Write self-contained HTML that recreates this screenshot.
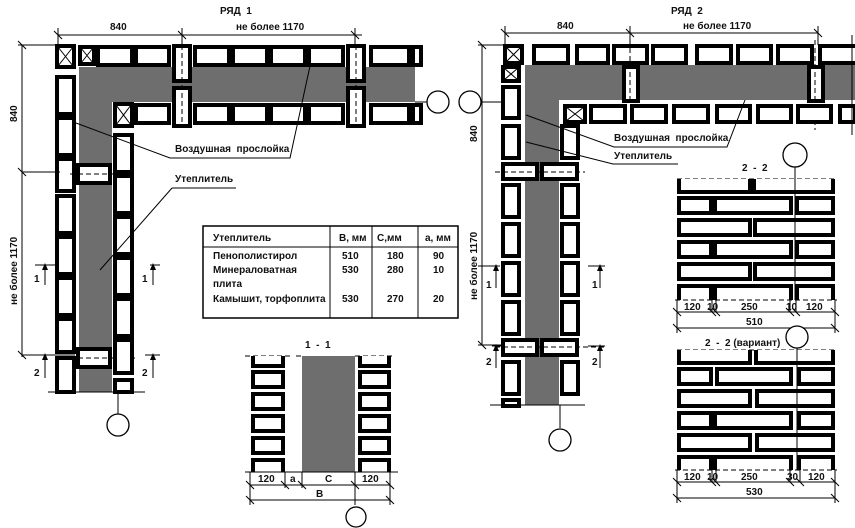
<!DOCTYPE html>
<html><head><meta charset="utf-8"><style>
html,body{margin:0;padding:0;background:#fff}
svg{display:block}
text{font-family:"Liberation Sans",sans-serif;font-weight:bold;font-size:10px;fill:#111}
.b{fill:#fff;stroke:#000;stroke-width:4}
.l{stroke:#000;stroke-width:1;fill:none}
.d{stroke:#000;stroke-width:1;stroke-dasharray:5 3;fill:none}
.c{fill:#fff;stroke:#000;stroke-width:1.3}
.h{fill:#6e6e6e}
</style></head><body>
<svg width="855" height="528" viewBox="0 0 855 528" xmlns="http://www.w3.org/2000/svg">

<!-- ============ РЯД 1 ============ -->
<text x="220" y="14">РЯД&#160;&#160;1</text>
<rect class="h" x="79" y="67" width="336" height="35"/>
<rect class="h" x="79" y="67" width="33" height="325"/>
<rect class="b" x="57" y="46" width="17" height="21"/><path class="l" d="M58 47L73 66M73 47L58 66" stroke-width="2"/>
<rect class="b" x="80" y="47" width="14" height="17"/><path class="l" d="M81 48L93 63M93 48L81 63" stroke-width="2"/>
<rect class="b" x="98" y="47" width="34" height="18"/>
<rect class="b" x="136" y="47" width="33" height="18"/>
<rect class="b" x="174" y="46" width="16" height="35"/>
<rect class="b" x="174" y="88" width="16" height="38"/>
<rect class="b" x="195" y="47" width="34" height="18"/>
<rect class="b" x="233" y="47" width="34" height="18"/>
<rect class="b" x="271" y="47" width="34" height="18"/>
<rect class="b" x="309" y="47" width="34" height="18"/>
<rect class="b" x="348" y="46" width="16" height="35"/>
<rect class="b" x="348" y="88" width="16" height="38"/>
<rect class="b" x="371" y="47" width="38" height="18"/>
<rect class="b" x="413" y="47" width="8" height="18"/>
<rect class="b" x="115" y="104" width="17" height="22"/><path class="l" d="M116 105L131 125M131 105L116 125" stroke-width="2"/>
<rect class="b" x="136" y="105" width="33" height="18"/>
<rect class="b" x="195" y="105" width="34" height="18"/>
<rect class="b" x="233" y="105" width="34" height="18"/>
<rect class="b" x="271" y="105" width="34" height="18"/>
<rect class="b" x="309" y="105" width="34" height="18"/>
<rect class="b" x="371" y="105" width="38" height="18"/>
<rect class="b" x="413" y="105" width="8" height="18"/>
<path class="d" d="M182 45V128M356 45V128"/>
<rect class="b" x="57" y="77" width="17" height="37"/>
<rect class="b" x="57" y="118" width="17" height="37"/>
<rect class="b" x="57" y="159" width="17" height="32"/>
<rect class="b" x="57" y="196" width="17" height="37"/>
<rect class="b" x="57" y="237" width="17" height="37"/>
<rect class="b" x="57" y="278" width="17" height="37"/>
<rect class="b" x="57" y="319" width="17" height="33"/>
<rect class="b" x="57" y="358" width="17" height="34"/>
<rect class="b" x="78" y="165" width="32" height="18"/>
<rect class="b" x="78" y="349" width="32" height="18"/>
<path class="d" d="M70 174H130M70 358H135"/>
<rect class="b" x="115" y="135" width="17" height="37"/>
<rect class="b" x="115" y="176" width="17" height="37"/>
<rect class="b" x="115" y="217" width="17" height="37"/>
<rect class="b" x="115" y="258" width="17" height="37"/>
<rect class="b" x="115" y="299" width="17" height="37"/>
<rect class="b" x="115" y="340" width="17" height="33"/>
<rect class="b" x="115" y="380" width="17" height="12"/>
<path class="l" d="M48 392H145"/>
<path class="l" d="M415 102H427M118 392V414"/>
<circle class="c" cx="438" cy="102" r="11"/>
<circle class="c" cx="118" cy="425" r="11"/>
<path class="l" d="M58 35H362M58 28V45M182 28V45M355 28V45"/>
<path class="l" d="M54 31l8 8M178 31l8 8M351 31l8 8"/>
<text x="110" y="30">840</text><text x="236" y="30">не более 1170</text>
<path class="l" d="M22 45V357M18 45H58M22 172H60M22 355H75"/>
<path class="l" d="M18 41l8 8M18 168l8 8M18 351l8 8"/>
<text transform="translate(17,122) rotate(-90)">840</text>
<text transform="translate(17,305) rotate(-90)">не более 1170</text>
<path class="l" d="M35 265H55M45 265V285M150 265H160M153 265V285"/>
<path d="M42 270L45 263L48 270Z M150 270L153 263L156 270Z"/>
<text x="34" y="282">1</text><text x="142" y="282">1</text>
<path class="l" d="M35 355H55M45 355V378M145 355H160M153 355V378"/>
<path d="M42 360L45 353L48 360Z M150 360L153 353L156 360Z"/>
<text x="34" y="376">2</text><text x="142" y="376">2</text>
<text x="175" y="152">Воздушная&#160;&#160;прослойка</text>
<path class="l" d="M76 123L170 158H290L310 66"/>
<text x="175" y="182">Утеплитель</text>
<path class="l" d="M172 188H236M172 188L100 270"/>

<!-- ============ TABLE ============ -->
<rect x="203" y="226" width="255" height="92" fill="#fff" stroke="#000" stroke-width="1.5"/>
<path class="l" d="M203 247H458M330 226V318M372 226V318M418 226V318"/>
<text x="213" y="241" font-size="9">Утеплитель</text><text x="339" y="241" font-size="9">В, мм</text><text x="377" y="241" font-size="9">С,мм</text><text x="425" y="241" font-size="9">а, мм</text>
<text x="213" y="259" font-size="9">Пенополистирол</text><text x="342" y="259" font-size="9">510</text><text x="387" y="259" font-size="9">180</text><text x="433" y="259" font-size="9">90</text>
<text x="213" y="273" font-size="9">Минераловатная</text><text x="342" y="273" font-size="9">530</text><text x="387" y="273" font-size="9">280</text><text x="433" y="273" font-size="9">10</text>
<text x="213" y="287" font-size="9">плита</text>
<text x="213" y="302" font-size="9">Камышит, торфоплита</text><text x="342" y="302" font-size="9">530</text><text x="387" y="302" font-size="9">270</text><text x="433" y="302" font-size="9">20</text>

<!-- ============ 1-1 ============ -->
<text x="305" y="348">1&#160;&#160;-&#160;&#160;1</text>
<rect class="h" x="302" y="356" width="53" height="116"/>
<path class="d" d="M245 356H290M296 356H302M355 356H395"/>
<path class="b" d="M253 356V366H283V356M360 356V366H389V356" fill="none"/>
<rect class="b" x="253" y="372" width="30" height="15"/><rect class="b" x="253" y="394" width="30" height="15"/><rect class="b" x="253" y="416" width="30" height="15"/><rect class="b" x="253" y="438" width="30" height="15"/>
<rect class="b" x="360" y="372" width="29" height="15"/><rect class="b" x="360" y="394" width="29" height="15"/><rect class="b" x="360" y="416" width="29" height="15"/><rect class="b" x="360" y="438" width="29" height="15"/>
<path class="b" d="M253 472V460H283V472M360 472V460H389V472" fill="none"/>
<path class="l" d="M245 472H398M250 472V505M285 472V488M302 472V488M355 472V505M390 472V505M250 485H390M250 500H390"/>
<path class="l" d="M246 481l8 8M281 481l8 8M298 481l8 8M351 481l8 8M386 481l8 8M246 496l8 8M386 496l8 8"/>
<text x="258" y="482">120</text><text x="290" y="482">a</text><text x="325" y="482">C</text><text x="362" y="482">120</text><text x="316" y="497">B</text>
<circle class="c" cx="356" cy="517" r="10"/>

<!-- ============ РЯД 2 ============ -->
<text x="671" y="14">РЯД&#160;&#160;2</text>
<rect class="h" x="525" y="65" width="330" height="35"/>
<rect class="h" x="525" y="65" width="34" height="340"/>
<rect class="b" x="505" y="46" width="17" height="17"/><path class="l" d="M506 47L521 62M521 47L506 62" stroke-width="2"/>
<rect class="b" x="534" y="46" width="34" height="17"/>
<rect class="b" x="577" y="46" width="31" height="17"/>
<rect class="b" x="614" y="46" width="33" height="17"/>
<rect class="b" x="653" y="46" width="33" height="17"/>
<rect class="b" x="697" y="46" width="34" height="17"/>
<rect class="b" x="738" y="46" width="33" height="17"/>
<rect class="b" x="778" y="46" width="34" height="17"/>
<rect class="b" x="820" y="46" width="40" height="17"/>
<rect class="b" x="624" y="67" width="14" height="34"/>
<rect class="b" x="809" y="67" width="14" height="34"/>
<path class="d" d="M630 40V100M815 40V130"/>
<rect class="b" x="565" y="106" width="20" height="16"/><path class="l" d="M566 107L584 121M584 107L566 121" stroke-width="2"/>
<rect class="b" x="591" y="106" width="34" height="16"/>
<rect class="b" x="632" y="106" width="34" height="16"/>
<rect class="b" x="674" y="106" width="34" height="16"/>
<rect class="b" x="717" y="106" width="33" height="16"/>
<rect class="b" x="758" y="106" width="33" height="16"/>
<rect class="b" x="798" y="106" width="33" height="16"/>
<rect class="b" x="840" y="106" width="15" height="16"/>
<path class="l" d="M852 35V135"/>
<rect class="b" x="503" y="67" width="16" height="14"/><path class="l" d="M504 68L518 80M518 68L504 80" stroke-width="2"/>
<rect class="b" x="503" y="87" width="16" height="31"/>
<rect class="b" x="503" y="126" width="16" height="32"/>
<rect class="b" x="503" y="164" width="34" height="15"/>
<rect class="b" x="542" y="164" width="35" height="15"/>
<rect class="b" x="503" y="185" width="16" height="32"/>
<rect class="b" x="503" y="224" width="16" height="32"/>
<rect class="b" x="503" y="263" width="16" height="32"/>
<rect class="b" x="503" y="302" width="16" height="32"/>
<rect class="b" x="503" y="340" width="34" height="15"/>
<rect class="b" x="542" y="340" width="35" height="15"/>
<rect class="b" x="503" y="362" width="16" height="32"/>
<rect class="b" x="503" y="400" width="16" height="6"/>
<rect class="b" x="562" y="126" width="16" height="32"/>
<rect class="b" x="562" y="185" width="16" height="32"/>
<rect class="b" x="562" y="224" width="16" height="32"/>
<rect class="b" x="562" y="263" width="16" height="32"/>
<rect class="b" x="562" y="302" width="16" height="32"/>
<rect class="b" x="562" y="362" width="16" height="32"/>
<path class="d" d="M495 172H585M495 347H605"/>
<path class="l" d="M490 405H585"/>
<path class="l" d="M481 102H505M560 405V428"/>
<circle class="c" cx="470" cy="102" r="11"/>
<circle class="c" cx="560" cy="440" r="11"/>
<path class="l" d="M505 33H818M505 26V45M630 26V45M818 26V45"/>
<path class="l" d="M501 29l8 8M626 29l8 8M814 29l8 8"/>
<text x="557" y="29">840</text><text x="683" y="29">не более 1170</text>
<path class="l" d="M482 45V345M478 45H505M478 345H505"/>
<path class="l" d="M478 41l8 8M478 341l8 8"/>
<text transform="translate(477,142) rotate(-90)">840</text>
<text transform="translate(477,300) rotate(-90)">не более 1170</text>
<path class="l" d="M478 266H500M496 266V288M588 266H605M600 266V288"/>
<path d="M493 271L496 264L499 271Z M597 271L600 264L603 271Z"/>
<text x="486" y="288">1</text><text x="592" y="288">1</text>
<path class="l" d="M492 346H503M496 346V368M588 346H605M600 346V368"/>
<path d="M493 351L496 344L499 351Z M597 351L600 344L603 351Z"/>
<text x="486" y="365">2</text><text x="592" y="365">2</text>
<text x="614" y="141">Воздушная&#160;&#160;прослойка</text>
<path class="l" d="M526 115L614 147H727L745 100"/>
<text x="614" y="159">Утеплитель</text>
<path class="l" d="M526 142L613 164H678"/>

<!-- ============ 2-2 ============ -->
<text x="742" y="171">2&#160;&#160;-&#160;&#160;2</text>
<circle class="c" cx="795" cy="155" r="12"/>
<path class="d" d="M677 179H835"/>
<path class="b" d="M679 179V192H750V179M754 179V192H833V179" fill="none"/>
<rect class="b" x="679" y="198" width="32" height="15"/><rect class="b" x="715" y="198" width="76" height="15"/><rect class="b" x="797" y="198" width="36" height="15"/>
<rect class="b" x="679" y="220" width="71" height="15"/><rect class="b" x="755" y="220" width="78" height="15"/>
<rect class="b" x="679" y="242" width="32" height="15"/><rect class="b" x="715" y="242" width="76" height="15"/><rect class="b" x="797" y="242" width="36" height="15"/>
<rect class="b" x="679" y="264" width="71" height="15"/><rect class="b" x="755" y="264" width="78" height="15"/>
<path class="b" d="M679 300V286H711V300M715 300V286H791V300M797 300V286H833V300" fill="none"/>
<path class="d" d="M675 300H837"/>
<path class="l" d="M795 167V300"/>
<path class="l" d="M677 300V333M712 300V312M716 300V312M790 300V312M796 300V312M835 300V333M677 312H835M677 328H835"/>
<path class="l" d="M673 308l8 8M708 308l8 8M712 308l8 8M786 308l8 8M792 308l8 8M831 308l8 8M673 324l8 8M831 324l8 8"/>
<text x="684" y="310">120</text><text x="707" y="310">10</text><text x="741" y="310">250</text><text x="786" y="310">10</text><text x="806" y="310">120</text>
<text x="746" y="325">510</text>
<text x="705" y="346">2&#160;&#160;-&#160;&#160;2 (вариант)</text>
<circle class="c" cx="797" cy="337" r="11"/>
<path class="d" d="M677 350H835"/>
<path class="b" d="M679 350V363H750V350M756 350V363H833V350" fill="none"/>
<rect class="b" x="679" y="369" width="32" height="15"/><rect class="b" x="717" y="369" width="74" height="15"/><rect class="b" x="799" y="369" width="34" height="15"/>
<rect class="b" x="679" y="391" width="71" height="15"/><rect class="b" x="757" y="391" width="76" height="15"/>
<rect class="b" x="679" y="413" width="32" height="15"/><rect class="b" x="715" y="413" width="76" height="15"/><rect class="b" x="799" y="413" width="34" height="15"/>
<rect class="b" x="679" y="435" width="71" height="15"/><rect class="b" x="757" y="435" width="76" height="15"/>
<path class="b" d="M679 470V457H711V470M715 470V457H791V470M799 470V457H833V470" fill="none"/>
<path class="d" d="M675 470H837"/>
<path class="l" d="M797 348V470"/>
<path class="l" d="M677 470V503M712 470V482M716 470V482M790 470V482M800 470V482M835 470V503M677 482H835M677 498H835"/>
<path class="l" d="M673 478l8 8M708 478l8 8M712 478l8 8M786 478l8 8M796 478l8 8M831 478l8 8M673 494l8 8M831 494l8 8"/>
<text x="684" y="480">120</text><text x="707" y="480">10</text><text x="741" y="480">250</text><text x="787" y="480">30</text><text x="808" y="480">120</text>
<text x="746" y="495">530</text>
</svg>
</body></html>
